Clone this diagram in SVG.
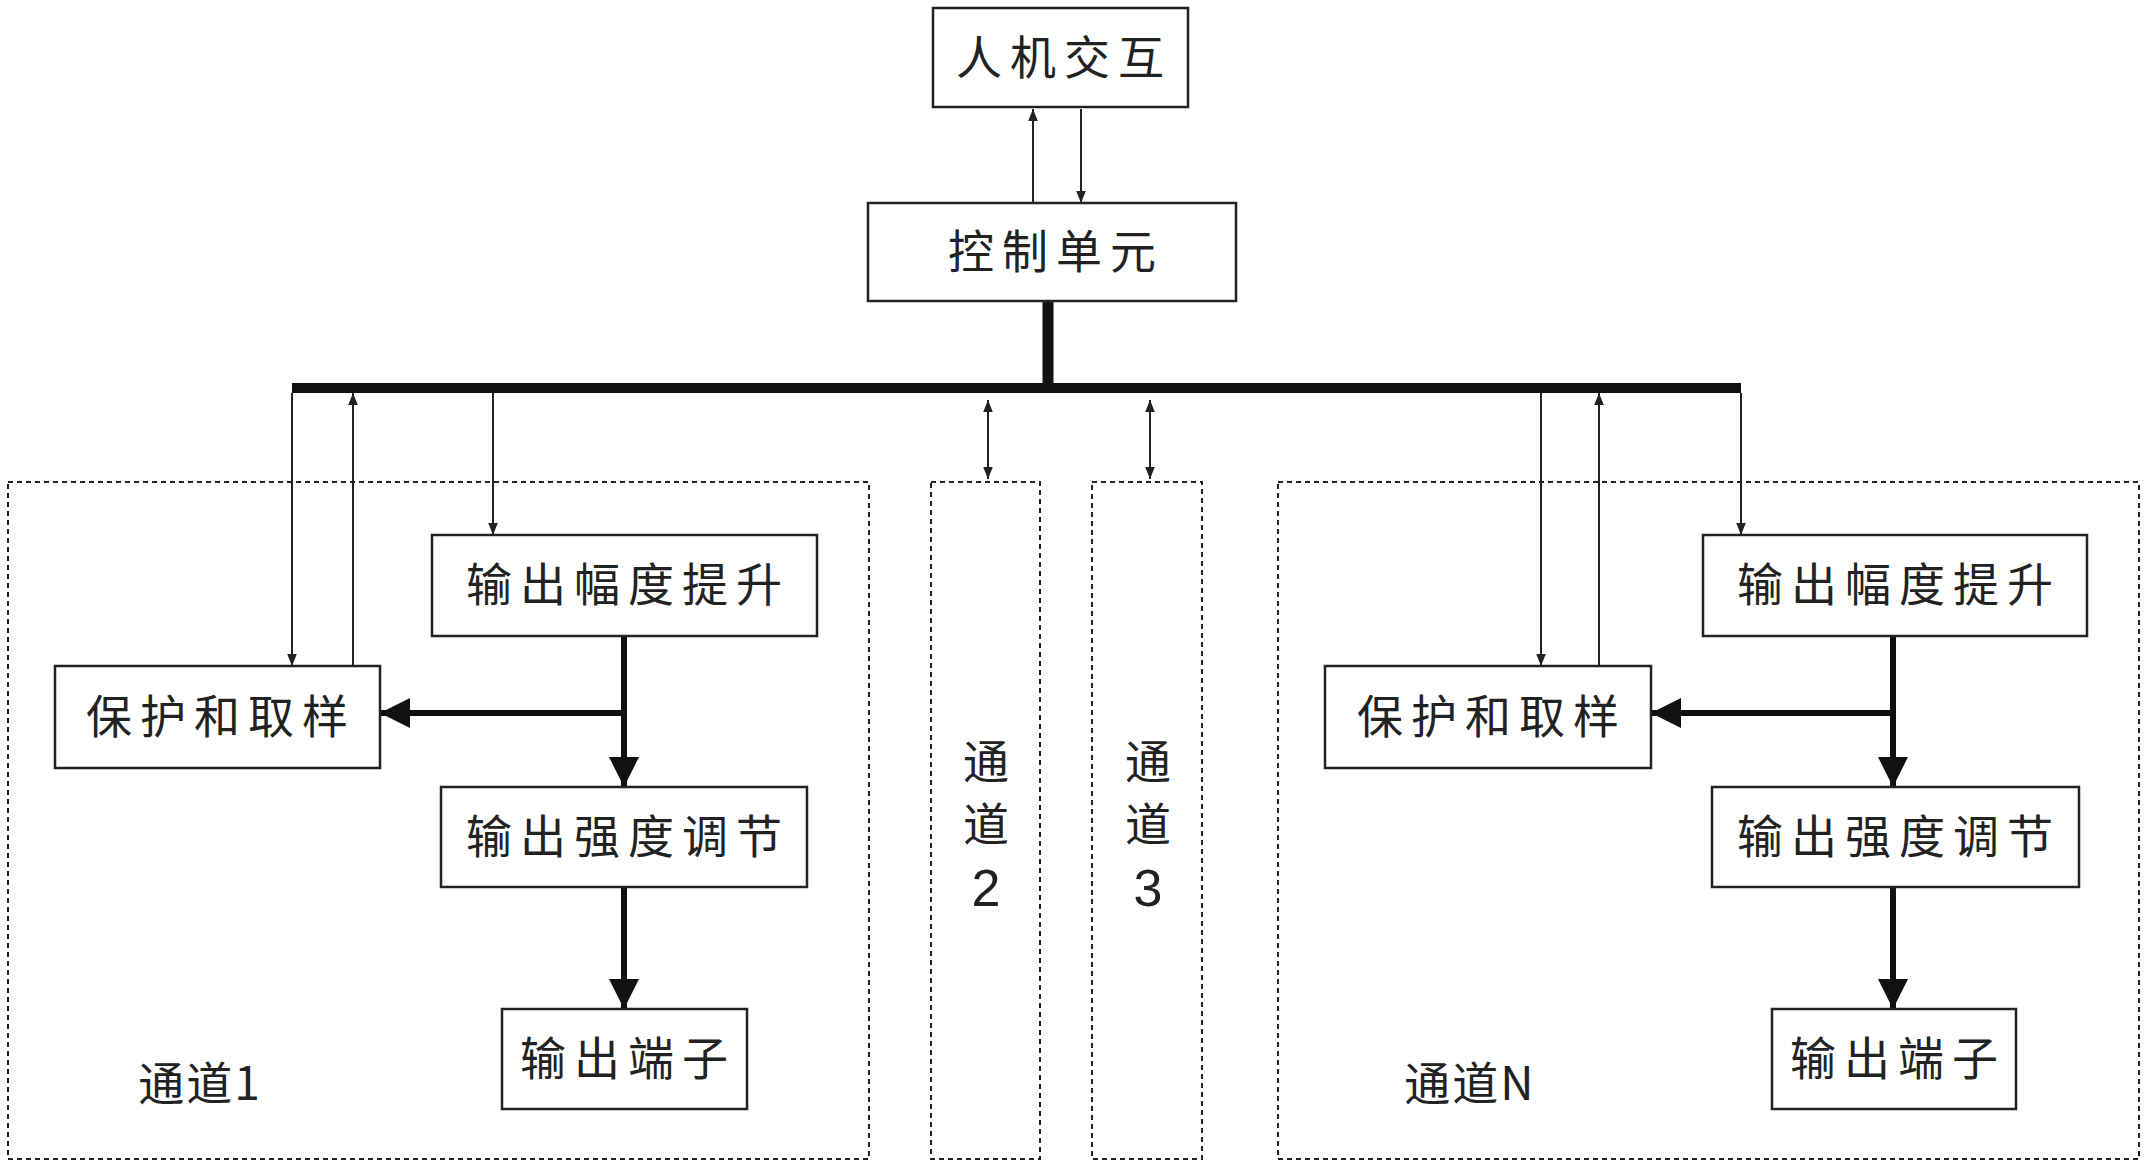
<svg xmlns="http://www.w3.org/2000/svg" width="2146" height="1166" viewBox="0 0 2146 1166">
<style>
.b{fill:#fff;stroke:#222;stroke-width:2.5}
.d{fill:none;stroke:#222;stroke-width:2;stroke-dasharray:5 4}
.t{font-family:"Noto Sans CJK SC","Liberation Sans",sans-serif;font-size:46px;fill:#222;text-anchor:middle;letter-spacing:8px}
.thin{stroke:#222;stroke-width:2;fill:none}
.thick{stroke:#111;stroke-width:6;fill:none}
</style>
<defs>
<marker id="a" viewBox="0 0 10 10" refX="10" refY="5" markerWidth="12" markerHeight="12" markerUnits="userSpaceOnUse" orient="auto-start-reverse"><path d="M0,1 L10,5 L0,9 Z" fill="#222"/></marker>
<marker id="A" viewBox="0 0 10 10" refX="10" refY="5" markerWidth="32" markerHeight="30" markerUnits="userSpaceOnUse" orient="auto"><path d="M0,0 L10,5 L0,10 Z" fill="#111"/></marker>
</defs>
<g id="connectors">
<line class="thin" x1="1033" y1="203" x2="1033" y2="109" marker-end="url(#a)"/>
<line class="thin" x1="1081" y1="109" x2="1081" y2="203" marker-end="url(#a)"/>
<line x1="1048" y1="301" x2="1048" y2="387" stroke="#111" stroke-width="11"/>
<line x1="292" y1="388" x2="1741" y2="388" stroke="#111" stroke-width="10"/>
<line class="thin" x1="292" y1="393" x2="292" y2="666" marker-end="url(#a)"/>
<line class="thin" x1="353" y1="666" x2="353" y2="393" marker-end="url(#a)"/>
<line class="thin" x1="493" y1="393" x2="493" y2="535" marker-end="url(#a)"/>
<line class="thin" x1="988" y1="400" x2="988" y2="479" marker-start="url(#a)" marker-end="url(#a)"/>
<line class="thin" x1="1150" y1="400" x2="1150" y2="479" marker-start="url(#a)" marker-end="url(#a)"/>
<line class="thin" x1="1541" y1="393" x2="1541" y2="666" marker-end="url(#a)"/>
<line class="thin" x1="1599" y1="666" x2="1599" y2="393" marker-end="url(#a)"/>
<line class="thin" x1="1741" y1="393" x2="1741" y2="535" marker-end="url(#a)"/>
<line class="thick" x1="624" y1="636" x2="624" y2="787" marker-end="url(#A)"/>
<line class="thick" x1="624" y1="713" x2="380" y2="713" marker-end="url(#A)"/>
<line class="thick" x1="624" y1="887" x2="624" y2="1009" marker-end="url(#A)"/>
<line class="thick" x1="1893" y1="636" x2="1893" y2="787" marker-end="url(#A)"/>
<line class="thick" x1="1893" y1="713" x2="1651" y2="713" marker-end="url(#A)"/>
<line class="thick" x1="1893" y1="887" x2="1893" y2="1009" marker-end="url(#A)"/>
</g>
<g id="hmi"><rect class="b" x="933" y="8" width="255" height="99"/><text class="t" x="1064" y="74">人机交互</text></g>
<g id="ctrl"><rect class="b" x="868" y="203" width="368" height="98"/><text class="t" x="1056" y="268">控制单元</text></g>
<g id="ch1"><rect class="d" x="8" y="482" width="861" height="677"/><text class="t" x="200" y="1100" style="letter-spacing:2px">通道1</text></g>
<g id="ch2"><rect class="d" x="931" y="482" width="109" height="677"/><text class="t" x="986" y="778" style="letter-spacing:0">通</text><text class="t" x="986" y="841" style="letter-spacing:0">道</text><text class="t" x="986" y="906" style="letter-spacing:0;font-family:'Liberation Sans',sans-serif;font-size:52px">2</text></g>
<g id="ch3"><rect class="d" x="1092" y="482" width="110" height="677"/><text class="t" x="1148" y="778" style="letter-spacing:0">通</text><text class="t" x="1148" y="841" style="letter-spacing:0">道</text><text class="t" x="1148" y="906" style="letter-spacing:0;font-family:'Liberation Sans',sans-serif;font-size:52px">3</text></g>
<g id="chN"><rect class="d" x="1278" y="482" width="861" height="677"/><text class="t" x="1470" y="1100" style="letter-spacing:2px">通道N</text></g>
<g id="amp1"><rect class="b" x="432" y="535" width="385" height="101"/><text class="t" x="628" y="601">输出幅度提升</text></g>
<g id="prot1"><rect class="b" x="55" y="666" width="325" height="102"/><text class="t" x="221" y="733">保护和取样</text></g>
<g id="int1"><rect class="b" x="441" y="787" width="366" height="100"/><text class="t" x="628" y="853">输出强度调节</text></g>
<g id="out1"><rect class="b" x="502" y="1009" width="245" height="100"/><text class="t" x="628" y="1075">输出端子</text></g>
<g id="ampN"><rect class="b" x="1703" y="535" width="384" height="101"/><text class="t" x="1899" y="601">输出幅度提升</text></g>
<g id="protN"><rect class="b" x="1325" y="666" width="326" height="102"/><text class="t" x="1492" y="733">保护和取样</text></g>
<g id="intN"><rect class="b" x="1712" y="787" width="367" height="100"/><text class="t" x="1899" y="853">输出强度调节</text></g>
<g id="outN"><rect class="b" x="1772" y="1009" width="244" height="100"/><text class="t" x="1898" y="1075">输出端子</text></g>
</svg>
